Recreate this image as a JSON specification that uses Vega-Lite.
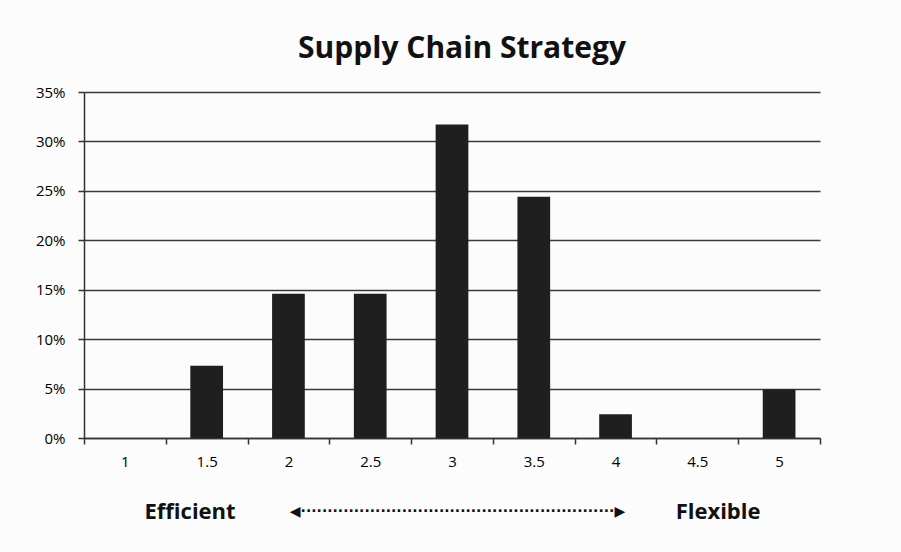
{
  "$schema": "https://vega.github.io/schema/vega-lite/v6.json",
  "width": 736,
  "height": 346,
  "autosize": "none",
  "padding": {"left": 84, "top": 92, "right": 81, "bottom": 114},
  "background": "#fcfcfc",
  "title": {
    "text": "Supply Chain Strategy",
    "font": "Open Sans",
    "fontSize": 30,
    "fontWeight": "bold",
    "color": "#111111",
    "anchor": "middle",
    "baseline": "alphabetic",
    "offset": -3,
    "dx": 10
  },
  "data": {
    "values": [
      {"score": "1", "share": 0},
      {"score": "1.5", "share": 0.073},
      {"score": "2", "share": 0.146},
      {"score": "2.5", "share": 0.146},
      {"score": "3", "share": 0.317},
      {"score": "3.5", "share": 0.244},
      {"score": "4", "share": 0.024},
      {"score": "4.5", "share": 0},
      {"score": "5", "share": 0.049}
    ]
  },
  "layer": [
    {
      "mark": {"type": "bar", "color": "#1f1f1f", "width": {"band": 0.4}},
      "encoding": {
        "x": {
          "field": "score",
          "type": "ordinal",
          "sort": null,
          "scale": {"paddingInner": 0, "paddingOuter": 0},
          "axis": {
            "orient": "bottom",
            "tickBand": "extent",
            "labelAngle": 0,
            "labelFont": "Open Sans",
            "labelFontSize": 15,
            "labelColor": "#000000",
            "labelPadding": 10,
            "tickSize": 6,
            "tickColor": "#333333",
            "tickWidth": 1.5,
            "domainColor": "#333333",
            "domainWidth": 1.5,
            "grid": false,
            "title": "Efficient\u2003\u2003\u2003\u2003\u2003\u2003\u2003\u2003\u2003\u2003\u2003\u2003\u2003\u2003\u2003\u2003\u2003\u2003\u2003\u2003Flexible",
            "titleFont": "Open Sans",
            "titleFontSize": 22,
            "titleFontWeight": "bold",
            "titleColor": "#111111",
            "titlePadding": 32
          }
        },
        "y": {
          "field": "share",
          "type": "quantitative",
          "scale": {"domain": [0, 0.35], "nice": false},
          "axis": {
            "values": [0, 0.05, 0.1, 0.15, 0.2, 0.25, 0.3, 0.35],
            "format": ".0%",
            "title": null,
            "labelFont": "Open Sans",
            "labelFontSize": 15,
            "labelColor": "#000000",
            "labelPadding": 13,
            "tickSize": 6,
            "tickColor": "#333333",
            "tickWidth": 1.5,
            "domainColor": "#333333",
            "domainWidth": 1.5,
            "grid": true,
            "gridColor": "#3a3a3a",
            "gridWidth": 1.5
          }
        }
      }
    },
    {
      "mark": {"type": "point", "opacity": 0},
      "encoding": {
        "x": {
          "field": "score",
          "type": "ordinal",
          "sort": null,
          "axis": {
            "orient": "bottom",
            "domain": false,
            "ticks": false,
            "labels": false,
            "grid": false,
            "title": "◀···························································▶",
            "titleFont": "DejaVu Sans",
            "titleFontSize": 14,
            "titleFontWeight": "bold",
            "titleColor": "#111111",
            "titlePadding": 66,
            "titleX": 373
          }
        }
      }
    }
  ],
  "resolve": {"axis": {"x": "independent"}},
  "config": {"view": {"stroke": null}}
}
